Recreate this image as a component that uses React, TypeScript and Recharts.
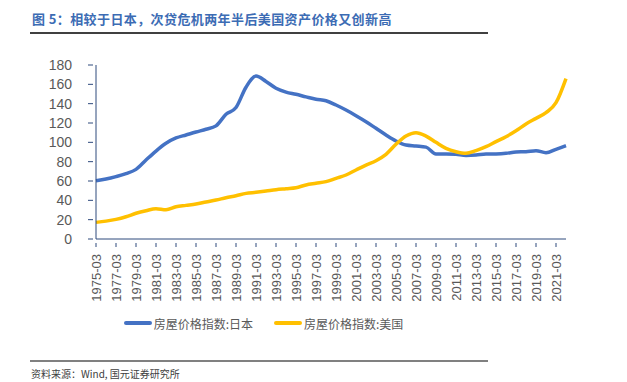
import { LineChart, Line, XAxis, YAxis, Legend } from "recharts";

const years = [
  1975, 1976, 1977, 1978, 1979, 1980, 1981, 1982, 1983, 1984, 1985, 1986,
  1987, 1988, 1989, 1990, 1991, 1992, 1993, 1994, 1995, 1996, 1997, 1998,
  1999, 2000, 2001, 2002, 2003, 2004, 2005, 2006, 2007, 2008, 2009, 2010,
  2011, 2012, 2013, 2014, 2015, 2016, 2017, 2018, 2019, 2020, 2021, 2022,
];

const japan = [
  60.3, 62, 64.5, 67.6, 72, 81.7, 91, 99, 104.5, 107.6, 110.7, 113.5,
  117, 129, 136, 157, 168.5, 163, 156, 152, 149.7, 147, 144.5, 143,
  138.6, 133.4, 127.6, 121.4, 114.5, 107.6, 101.4, 97.2, 96.2, 95, 88, 88,
  87.6, 86.5, 86.9, 87.9, 88, 88.6, 90, 90.3, 91.4, 89.3, 92.8, 96.5,
];

const usa = [
  17.2, 18.5, 20.3, 23, 26.6, 29.3, 31.4, 30.3, 33.4, 34.8, 36.2, 38.3,
  40.3, 42.7, 44.8, 47.2, 48.3, 49.6, 51, 52, 53, 55.9, 57.6, 59.3,
  62.8, 66.2, 71.4, 76.5, 81, 87.6, 98, 106.5, 110, 106.5, 100, 93.8,
  90.3, 88.6, 91.4, 95.5, 100.7, 105.8, 112, 119, 124.8, 130.7, 141, 166,
];

const yTicks = [0, 20, 40, 60, 80, 100, 120, 140, 160, 180];

const data = years.map((y, i) => ({
  date: `${y}-03`,
  japan: japan[i],
  usa: usa[i],
}));

const AXIS = "#2E4A7D";
const LABEL = "#595959";
const BLUE = "#4472C4";
const GOLD = "#FFC000";

const XTick = (props: any) => {
  const { x, y, payload } = props;
  return (
    <g>
      <line x1={x} y1={y - 4} x2={x} y2={y} stroke={AXIS} strokeWidth={1} />
      <text
        x={x}
        y={y + 7}
        transform={`rotate(-90 ${x} ${y + 7})`}
        textAnchor="end"
        dy="0.35em"
        fontSize={13}
        fill={LABEL}
        fontFamily="Liberation Sans, Arial"
      >
        {payload.value}
      </text>
    </g>
  );
};

const YTick = (props: any) => {
  const { x, y, payload } = props;
  return (
    <g>
      <line x1={x} y1={y} x2={x + 5} y2={y} stroke={AXIS} strokeWidth={1} />
      <text
        x={x - 16}
        y={y}
        textAnchor="end"
        dy="0.35em"
        fontSize={14}
        fill={LABEL}
        fontFamily="Liberation Sans, Arial"
      >
        {payload.value}
      </text>
    </g>
  );
};

const LegendBox = () => {
  const items = [
    { name: "房屋价格指数:日本", color: BLUE },
    { name: "房屋价格指数:美国", color: GOLD },
  ];
  return (
    <div style={{ display: "flex", justifyContent: "center", height: 22, alignItems: "center" }}>
      {items.map((it, i) => (
        <div key={it.name} style={{ display: "flex", alignItems: "center", marginLeft: i ? 21 : 0 }}>
          <span style={{ width: 28, height: 4, borderRadius: 2, background: it.color, marginRight: 2 }} />
          <span style={{ fontSize: 12, color: LABEL, fontFamily: "Noto Sans CJK SC" }}>{it.name}</span>
        </div>
      ))}
    </div>
  );
};

export default function App() {
  return (
    <div
      style={{
        position: "absolute",
        left: 0,
        top: 0,
        width: 627,
        height: 382,
        background: "#fff",
        fontFamily: "Noto Sans CJK SC",
      }}
    >
      <div
        style={{
          position: "absolute",
          left: 32,
          top: 9,
          fontSize: 13,
          fontWeight: "bold",
          letterSpacing: 0.4,
          color: "#3C6CB4",
          whiteSpace: "nowrap",
        }}
      >
        图 5：相较于日本，次贷危机两年半后美国资产价格又创新高
      </div>
      <div style={{ position: "absolute", left: 30, top: 32, width: 458, height: 1.5, background: "#404040" }} />

      <LineChart
        width={627}
        height={340}
        data={data}
        margin={{ top: 65, right: 61, left: 36, bottom: 14 }}
      >
        <XAxis
          dataKey="date"
          interval={1}
          height={65}
          tickLine={false}
          stroke={AXIS}
          tick={<XTick />}
        />
        <YAxis
          domain={[0, 180]}
          ticks={yTicks}
          interval={0}
          width={60}
          tickLine={false}
          stroke={AXIS}
          tick={<YTick />}
        />
        <Legend verticalAlign="bottom" content={<LegendBox />} wrapperStyle={{ top: 312, left: 0, width: 527 }} />
        <Line
          type="monotone"
          dataKey="japan"
          name="房屋价格指数:日本"
          stroke={BLUE}
          strokeWidth={3.5}
          dot={false}
          isAnimationActive={false}
        />
        <Line
          type="monotone"
          dataKey="usa"
          name="房屋价格指数:美国"
          stroke={GOLD}
          strokeWidth={3.5}
          dot={false}
          isAnimationActive={false}
        />
      </LineChart>

      <div style={{ position: "absolute", left: 30, top: 360, width: 458, height: 1.5, background: "#808080" }} />
      <div style={{ position: "absolute", left: 31, top: 366, fontSize: 10, color: "#404040", whiteSpace: "nowrap" }}>
        资料来源：Wind, 国元证券研究所
      </div>
    </div>
  );
}
